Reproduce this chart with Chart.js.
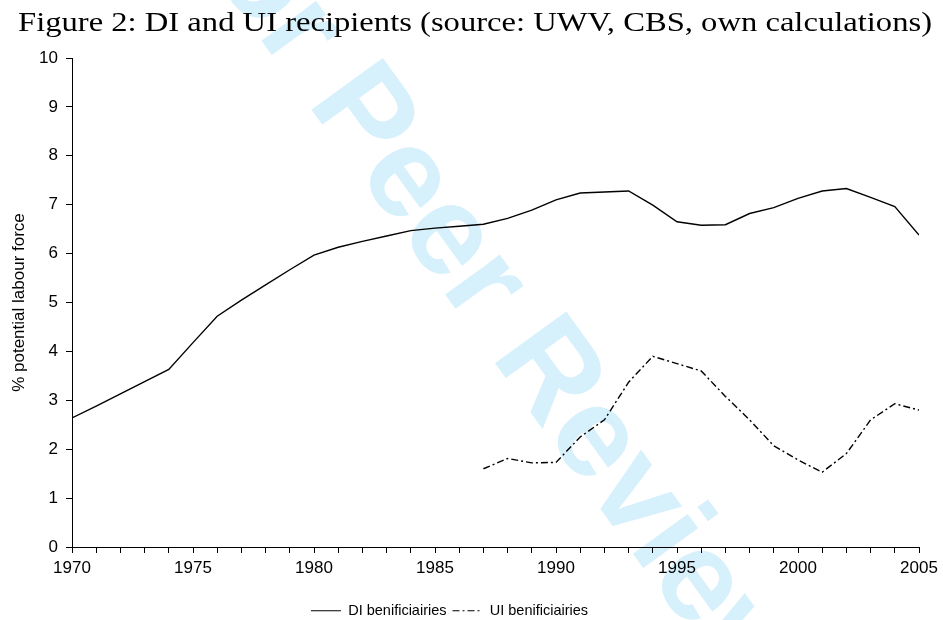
<!DOCTYPE html>
<html>
<head>
<meta charset="utf-8">
<script src="https://cdn.jsdelivr.net/npm/chart.js@4/dist/chart.umd.min.js"></script>
<style>
  html, body { margin: 0; padding: 0; background: #fff; }
  #wrap { width: 943px; height: 620px; }
</style>
</head>
<body>
<div id="wrap"><canvas id="chart"></canvas></div>
<script>
// years 1970-2005
const years = [1970, 1971, 1972, 1973, 1974, 1975, 1976, 1977, 1978, 1979,
  1980, 1981, 1982, 1983, 1984, 1985, 1986, 1987, 1988, 1989,
  1990, 1991, 1992, 1993, 1994, 1995, 1996, 1997, 1998, 1999,
  2000, 2001, 2002, 2003, 2004, 2005];

// DI recipients, % potential labour force
const diValues = [2.64, 2.88, 3.13, 3.38, 3.63, 4.18, 4.72, 5.05, 5.36, 5.67,
  5.97, 6.13, 6.25, 6.36, 6.47, 6.52, 6.56, 6.60, 6.72, 6.89,
  7.10, 7.24, 7.26, 7.28, 6.99, 6.65, 6.58, 6.59, 6.82, 6.94,
  7.13, 7.28, 7.33, 7.15, 6.96, 6.38];

// UI recipients only from 1987 on
const uiYears = years.slice(17);
const uiValues = [1.60, 1.81, 1.72, 1.73, 2.25, 2.60, 3.37, 3.90, 3.75, 3.60,
  3.08, 2.60, 2.07, 1.78, 1.53, 1.91, 2.60, 2.93, 2.80];

const yTicks = [0, 1, 2, 3, 4, 5, 6, 7, 8, 9, 10];

const titleText = 'Figure 2: DI and UI recipients (source: UWV, CBS, own calculations)';
const sans = '"Liberation Sans", Arial, sans-serif';

// the light blue "For Peer Review" stamp behind the plot
const watermark = {
  id: 'watermark',
  beforeDraw(chart) {
    const ctx = chart.ctx;
    ctx.save();
    ctx.font = 'bold 128px ' + sans;
    ctx.fillStyle = '#d6f0fc';
    ctx.textBaseline = 'alphabetic';
    ctx.translate(311.7, 110);
    ctx.rotate(54.1 * Math.PI / 180);
    const lead = ctx.measureText('For ').width;
    ctx.fillText('For Peer Review', -lead - 9, 0);
    ctx.restore();
  }
};

// LaTeX caption above the plot (wide serif, so stretch to the figure width)
const caption = {
  id: 'caption',
  afterDraw(chart) {
    const ctx = chart.ctx;
    ctx.save();
    ctx.font = '26.5px "Liberation Serif", "Times New Roman", serif';
    ctx.fillStyle = '#000';
    ctx.textBaseline = 'alphabetic';
    const w = ctx.measureText(titleText).width;
    ctx.translate(18, 31);
    ctx.scale(914 / w, 1);
    ctx.fillText(titleText, 0, 0);
    ctx.restore();
  }
};

// nudge the legend to where it sits in the figure
const legendShift = {
  id: 'legendShift',
  afterLayout(chart) {
    const lg = chart.legend;
    lg.left -= 10; lg.right -= 10;
    lg.top += 8; lg.bottom += 8;
  }
};

new Chart(document.getElementById('chart'), {
  type: 'line',
  data: {
    datasets: [
      {
        label: 'DI benificiairies',
        data: years.map((y, i) => ({ x: y, y: diValues[i] })),
        borderColor: '#000',
        borderWidth: 1.4,
        pointRadius: 0,
        tension: 0,
        fill: false,
      },
      {
        label: 'UI benificiairies',
        data: uiYears.map((y, i) => ({ x: y, y: uiValues[i] })),
        borderColor: '#000',
        borderWidth: 1.4,
        borderDash: [7, 3, 2, 3],
        pointRadius: 0,
        tension: 0,
        fill: false,
      },
    ],
  },
  options: {
    responsive: true,
    maintainAspectRatio: false,
    animation: false,
    layout: { padding: { left: 0, right: 24, top: 58, bottom: 0 } },
    plugins: {
      title: { display: false },
      legend: {
        position: 'bottom',
        labels: {
          color: '#000',
          font: { family: sans, size: 14.5 },
          usePointStyle: true,
          pointStyle: 'line',
          pointStyleWidth: 30,
          padding: 6,
          generateLabels: chart =>
            Chart.defaults.plugins.legend.labels.generateLabels(chart).map(item => {
              const ds = chart.data.datasets[item.datasetIndex];
              item.lineDash = ds.borderDash || [];
              item.lineWidth = 1.2;
              item.strokeStyle = '#000';
              return item;
            }),
        },
      },
      tooltip: { enabled: false },
    },
    scales: {
      x: {
        type: 'linear',
        min: 1970,
        max: 2005,
        grid: { drawOnChartArea: false, drawTicks: true, tickLength: 6, color: '#000' },
        border: { color: '#000', width: 1 },
        ticks: {
          stepSize: 1,
          autoSkip: false,
          maxRotation: 0,
          padding: 5.5,
          color: '#000',
          font: { family: sans, size: 17 },
          callback: v => (v % 5 === 0 ? String(v) : ''),
        },
        afterFit: scale => {
          scale.height = 42.5;
          scale.paddingLeft = 19;
          scale.paddingRight = 19;
        },
      },
      y: {
        min: 0,
        max: 10,
        afterBuildTicks: scale => { scale.ticks = yTicks.map(v => ({ value: v })); },
        grid: { drawOnChartArea: false, drawTicks: true, tickLength: 6, color: '#000' },
        border: { color: '#000', width: 1 },
        ticks: {
          padding: 8,
          color: '#000',
          font: { family: sans, size: 17 },
        },
        title: {
          display: true,
          text: '% potential labour force',
          color: '#000',
          font: { family: sans, size: 17 },
          padding: { top: 9, bottom: 0 },
        },
        afterFit: scale => { scale.width = 72; },
      },
    },
  },
  plugins: [watermark, caption, legendShift],
});
</script>
</body>
</html>
